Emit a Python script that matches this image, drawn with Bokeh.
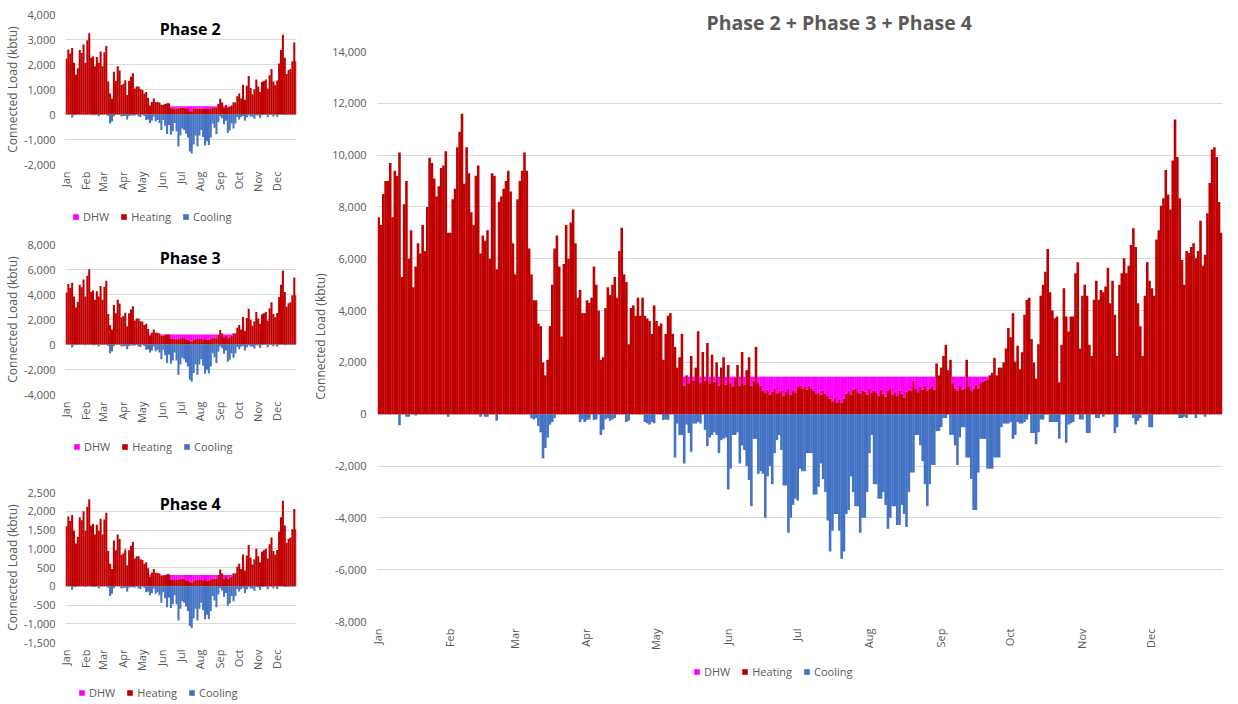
import math
from bokeh.plotting import figure
from bokeh.models import (Range1d, FixedTicker, NumeralTickFormatter, Legend,
                          LegendItem, Label, ColumnDataSource)
from bokeh.layouts import row, column
from bokeh.embed import file_html
from bokeh.resources import INLINE

# ---------------------------------------------------------------- data
MONTHS = ["Jan", "Feb", "Mar", "Apr", "May", "Jun",
          "Jul", "Aug", "Sep", "Oct", "Nov", "Dec"]
MONTH_START_DAYS = [0, 31, 59, 90, 120, 151, 181, 212, 243, 273, 304, 334]
DAYS_IN_YEAR = 365
BIN_DAYS = 3          # small panels: one bar per 3 days
N_BINS = 122

# Combined (Phase 2 + Phase 3 + Phase 4), one value per day, kbtu
main_heating = [
    7600, 7300, 8500, 9000, 9000, 9700, 7600, 9400, 9200, 10100,
    5300, 8100, 9000, 6000, 7100, 4900, 5700, 6600, 6200, 7300,
    6300, 8000, 9900, 9700, 9100, 8400, 8800, 9500, 9600, 10150,
    7000, 7000, 8300, 8700, 10300, 10900, 11600, 8900, 10300, 9300,
    7800, 7300, 9200, 9600, 6200, 6900, 6700, 7100, 6000, 9300,
    9200, 5600, 8200, 8400, 8700, 9000, 9400, 8600, 6600, 5400,
    8300, 9000, 9400, 10100, 9400, 6400, 5400, 4400, 4400, 3500,
    3400, 2000, 1500, 2100, 3400, 5000, 6400, 6900, 5700, 3000,
    5800, 7300, 6000, 7400, 7900, 6600, 4500, 4800, 3900, 3900,
    4400, 4300, 4500, 5700, 5000, 4000, 2100, 2200, 4100, 4900,
    4600, 5000, 5300, 4500, 6300, 7200, 5400, 5100, 2700, 4100,
    4200, 3800, 4500, 3800, 4500, 3800, 3700, 3600, 3100, 4200,
    3600, 3400, 3500, 2100, 3100, 3800, 3900, 3100, 2600, 1800,
    2200, 3100, 1100, 1500, 1200, 2250, 1300, 1800, 3200, 1200,
    2400, 1300, 2750, 1200, 2300, 1250, 2000, 1100, 1800, 2200,
    1150, 1900, 1200, 1050, 1400, 1900, 1100, 2400, 1150, 1700,
    2200, 1100, 1300, 2600, 1200, 1100, 900, 820, 950, 760,
    880, 1000, 780, 850, 920, 700, 860, 980, 760, 900,
    820, 1050, 1100, 1000, 1050, 950, 1100, 1000, 900, 800,
    850, 750, 900, 780, 700, 600, 500, 650, 450, 550,
    440, 600, 800, 900, 750, 950, 1000, 850, 780, 920,
    880, 750, 980, 820, 900, 850, 700, 950, 800, 680,
    900, 1000, 760, 850, 700, 920, 800, 650, 880, 950,
    900, 1300, 1000, 850, 1050, 950, 1100, 900, 1000, 1080,
    950, 1960, 1500, 1800, 2250, 2680, 1700, 2100, 1200, 1000,
    900, 1100, 950, 1000, 2100, 1050, 900, 980, 1150, 1000,
    1200, 1250, 1300, 1350, 1500, 1600, 2175, 1500, 1800, 1800,
    2000, 2540, 3330, 2970, 3900, 2030, 2640, 1740, 2390, 3840,
    4420, 4500, 2900, 2000, 1380, 2700, 4570, 5000, 5500, 6380,
    4710, 4000, 3700, 3770, 1230, 2680, 4860, 3770, 3190, 3770,
    3770, 5440, 5870, 2540, 4570, 5000, 4570, 2680, 2250, 4420,
    5150, 4420, 4790, 4710, 4930, 5650, 4280, 5150, 3840, 2250,
    5000, 5440, 6020, 5440, 5730, 6530, 7180, 6450, 4280, 3400,
    2250, 4570, 5870, 5150, 4860, 4570, 6740, 7100, 8050, 8340,
    9430, 8480, 7900, 9790, 11380, 9930, 8340, 5950, 5000, 6300,
    6230, 6450, 6600, 6020, 6300, 7470, 5730, 6160, 7760, 8920,
    10220, 10300, 9930, 8190, 7000,
]

main_dhw = [0] * 132 + [
    350, 0, 250, 0, 150, 0, 0, 250, 0, 150,
    0, 250, 0, 200, 0, 350, 0, 0, 300, 0,
    250, 400, 50, 0, 350, 0, 300, 0, 0, 350,
    150, 0, 250, 350,
    550, 630, 500, 690, 570, 450, 670, 600, 530, 750, 590, 470, 690, 550, 630, 400,
    350, 450, 400, 500, 350, 450,
    550, 650, 600, 700, 550, 670, 750,
    850, 950, 800, 1000, 900, 1010, 850,
    650, 550, 700, 500, 450, 600, 670, 530, 570, 700, 470, 630, 550,
    600, 750, 500, 650, 770, 550, 450, 690, 600, 750, 530, 650, 800, 570, 500,
    550, 150, 450, 600, 400, 500, 350, 550, 450, 370, 500,
    0, 0, 0, 0, 0, 0, 0, 250,
    450, 550, 350, 500, 450, 0, 400, 550, 470, 300, 450, 250, 200, 150, 100,
] + [0] * 101

# cooling magnitudes (drawn below zero)
main_cooling = [
    0, 0, 0, 0, 0, 0, 0, 0, 0, 430,
    0, 0, 100, 100, 0, 0, 50, 0, 0, 0,
    0, 0, 0, 0, 0, 0, 0, 0, 0, 0,
    100, 0, 0, 0, 0, 0, 0, 0, 0, 0,
    0, 0, 0, 0, 100, 0, 100, 100, 0, 0,
    0, 250, 0, 0, 0, 0, 0, 0, 0, 0,
    0, 0, 0, 0, 0, 0, 150, 200, 150, 450,
    700, 1700, 1300, 900, 400, 300, 150, 0, 0, 0,
    0, 0, 0, 0, 0, 0, 0, 300, 200, 300,
    220, 200, 0, 220, 200, 0, 800, 600, 200, 150,
    250, 200, 150, 0, 0, 0, 0, 300, 250, 0,
    0, 0, 0, 0, 0, 300, 350, 400, 300, 350,
    0, 0, 0, 220, 200, 220, 0, 0, 1670, 360,
    800, 800, 1900, 400, 725, 1450, 360, 360, 300, 360,
    0, 600, 1230, 900, 800, 700, 800, 1500, 1000, 940,
    900, 2900, 2100, 800, 800, 700, 1900, 1200, 1380, 2000,
    2540, 3550, 950, 950, 2300, 2200, 2300, 4000, 2400, 2000,
    2700, 1500, 1000, 800, 1380, 2750, 2750, 4570, 4000, 3500,
    3260, 3330, 2100, 2200, 2200, 1500, 1500, 1500, 3100, 3100,
    2800, 1900, 2500, 3000, 4100, 5300, 4500, 3850, 3850, 4500,
    5580, 5300, 3850, 3700, 2400, 3000, 3550, 3550, 4570, 4000,
    4000, 3000, 1500, 800, 2700, 2700, 3260, 3260, 3000, 3500,
    4420, 4000, 3550, 3550, 4280, 4280, 3500, 3850, 4350, 3000,
    2250, 2250, 800, 800, 1200, 1810, 2700, 3550, 2700, 1960,
    1960, 650, 650, 500, 150, 150, 0, 800, 800, 1200,
    1960, 900, 500, 500, 1670, 1670, 2500, 3700, 3700, 2250,
    950, 950, 950, 2100, 2100, 2100, 1670, 1670, 1670, 500,
    360, 360, 360, 300, 950, 800, 300, 360, 360, 300,
    200, 0, 725, 725, 1160, 700, 200, 200, 0, 0,
    300, 300, 300, 300, 950, 0, 0, 1100, 400, 350,
    300, 0, 0, 200, 200, 0, 725, 725, 0, 0,
    150, 150, 0, 100, 0, 0, 0, 0, 725, 500,
    0, 0, 0, 0, 0, 0, 150, 400, 250, 150,
    0, 0, 0, 500, 500, 0, 0, 0, 0, 0,
    0, 0, 0, 0, 0, 0, 150, 150, 100, 150,
    0, 0, 0, 150, 0, 0, 0, 100, 0, 0,
    0, 0, 0, 0, 0,
]

# Phase 2, one value per 3 days
p2_heating = [
    2240, 2600, 2440, 2660, 2070, 1600, 1850, 2580, 2460, 2800,
    2070, 2970, 3250, 2270, 2320, 1930, 2300, 2070, 2520, 1930,
    2490, 2740, 1320, 840, 640, 1710, 1340, 1930, 1760, 1180,
    1230, 1370, 780, 1340, 1510, 1650, 1040, 1120, 1120, 1010,
    980, 840, 900, 670, 360, 500, 640, 500, 500, 480,
    390, 390, 420, 450, 450, 270, 240, 250, 230, 250,
    280, 280, 280, 220, 220, 160, 130, 220, 250, 240,
    240, 240, 230, 240, 220, 220, 250, 290, 290, 280,
    420, 630, 480, 280, 380, 270, 310, 360, 490, 480,
    730, 840, 640, 1190, 590, 1150, 1540, 1060, 810, 1010,
    1400, 1120, 900, 1300, 1340, 1400, 1040, 1570, 1820, 1320,
    1180, 1360, 2040, 2580, 3190, 2270, 1620, 1780, 1820, 2130,
    2880, 2130,
]
p2_dhw = [0] * 55 + [
    60, 90, 80, 100, 80, 50, 50, 50, 110, 110,
    170, 200, 110, 80, 90, 90, 90, 100, 90, 110,
    110, 80, 40, 40, 50, 0, 0, 0, 50, 0,
    60, 20,
] + [0] * 35
p2_cooling = [
    0, 0, 0, 120, 30, 10, 0, 0, 0, 0,
    30, 0, 0, 0, 30, 30, 0, 70, 0, 0,
    0, 0, 60, 360, 280, 70, 0, 0, 0, 80,
    60, 60, 200, 60, 30, 40, 40, 0, 80, 100,
    0, 60, 220, 200, 340, 250, 80, 280, 220, 340,
    620, 220, 450, 780, 420, 810, 670, 340, 670, 1280,
    840, 560, 620, 760, 920, 1480, 1560, 1200, 840, 1280,
    840, 620, 900, 1240, 1060, 1220, 920, 360, 530, 780,
    310, 70, 150, 390, 250, 730, 640, 360, 560, 360,
    100, 200, 100, 60, 250, 110, 30, 80, 80, 170,
    30, 40, 140, 30, 10, 0, 110, 0, 10, 80,
    0, 90, 0, 0, 0, 30, 20, 10, 0, 10,
    0, 0,
]

# Phase 3
p3_heating = [
    4160, 4840, 4520, 4940, 3850, 2960, 3430, 4780, 4580, 5200,
    3850, 5510, 6030, 4210, 4320, 3590, 4260, 3850, 4680, 3590,
    4630, 5100, 2440, 1560, 1200, 3170, 2500, 3590, 3280, 2180,
    2290, 2550, 1460, 2500, 2810, 3070, 1920, 2080, 2080, 1870,
    1820, 1560, 1660, 1250, 680, 940, 1200, 940, 940, 880,
    730, 730, 780, 830, 830, 490, 450, 460, 430, 460,
    510, 520, 520, 420, 410, 300, 250, 400, 470, 440,
    450, 450, 430, 450, 400, 410, 470, 550, 540, 510,
    780, 1170, 880, 520, 700, 510, 580, 680, 910, 880,
    1350, 1560, 1200, 2210, 1090, 2130, 2860, 1980, 1510, 1870,
    2600, 2080, 1660, 2420, 2500, 2600, 1920, 2910, 3380, 2440,
    2180, 2520, 3800, 4780, 5920, 4210, 3020, 3300, 3380, 3950,
    5360, 3950,
]
p3_dhw = [0] * 44 + [
    120, 0, 0, 0, 0, 0, 70, 70, 20, 0, 0,
    310, 350, 340, 370, 340, 290, 280, 280, 380, 390,
    500, 550, 400, 330, 360, 350, 350, 370, 350, 400,
    390, 330, 250, 260, 290, 20, 0, 0, 280, 100,
    290, 220, 120,
] + [0] * 34
p3_cooling = [
    0, 0, 0, 230, 50, 30, 0, 0, 0, 0,
    50, 0, 0, 0, 50, 50, 0, 130, 0, 0,
    0, 0, 110, 690, 530, 130, 0, 0, 0, 160,
    110, 110, 370, 110, 50, 80, 80, 0, 160, 190,
    0, 120, 420, 370, 640, 480, 160, 530, 420, 640,
    1170, 420, 850, 1480, 800, 1540, 1270, 640, 1270, 2420,
    1590, 1060, 1170, 1430, 1750, 2810, 2960, 2280, 1590, 2420,
    1590, 1170, 1700, 2340, 2010, 2310, 1750, 690, 1010, 1480,
    580, 130, 290, 740, 480, 1380, 1220, 690, 1060, 690,
    190, 370, 180, 110, 480, 210, 50, 160, 160, 320,
    50, 70, 270, 50, 20, 0, 210, 0, 30, 140,
    0, 170, 0, 0, 0, 50, 40, 30, 0, 20,
    0, 0,
]

# Phase 4
p4_heating = [
    1600, 1860, 1740, 1900, 1480, 1140, 1320, 1840, 1760, 2000,
    1480, 2120, 2320, 1620, 1660, 1380, 1640, 1480, 1800, 1380,
    1780, 1960, 940, 600, 460, 1220, 960, 1380, 1260, 840,
    880, 980, 560, 960, 1080, 1180, 740, 800, 800, 720,
    700, 600, 640, 480, 260, 360, 460, 360, 360, 340,
    280, 280, 300, 320, 320, 190, 170, 180, 170, 180,
    200, 200, 200, 160, 160, 120, 100, 150, 180, 170,
    170, 170, 160, 170, 150, 160, 180, 210, 210, 200,
    300, 450, 340, 200, 270, 200, 220, 260, 350, 340,
    520, 600, 460, 850, 420, 820, 1100, 760, 580, 720,
    1000, 800, 640, 930, 960, 1000, 740, 1120, 1300, 940,
    840, 970, 1460, 1840, 2280, 1620, 1160, 1270, 1300, 1520,
    2060, 1520,
]
p4_dhw = [0] * 44 + [
    40, 0, 0, 0, 0, 0, 20, 20, 0, 0, 0,
    110, 130, 120, 130, 120, 100, 100, 100, 140, 140,
    180, 200, 150, 120, 130, 130, 130, 140, 130, 150,
    140, 120, 90, 90, 100, 0, 0, 0, 100, 30,
    100, 80, 40,
] + [0] * 34
p4_cooling = [
    0, 0, 0, 90, 20, 10, 0, 0, 0, 0,
    20, 0, 0, 0, 20, 20, 0, 50, 0, 0,
    0, 0, 40, 260, 200, 50, 0, 0, 0, 60,
    40, 40, 140, 40, 20, 30, 30, 0, 60, 70,
    0, 40, 160, 140, 240, 180, 60, 200, 160, 240,
    440, 160, 320, 560, 300, 580, 480, 240, 480, 910,
    600, 400, 440, 540, 660, 1060, 1120, 860, 600, 910,
    600, 440, 640, 880, 760, 870, 660, 260, 380, 560,
    220, 50, 110, 280, 180, 520, 460, 260, 400, 260,
    70, 140, 70, 40, 180, 80, 20, 60, 60, 120,
    20, 30, 100, 20, 10, 0, 80, 0, 10, 50,
    0, 70, 0, 0, 0, 20, 20, 10, 0, 10,
    0, 0,
]

for arr in (main_heating, main_dhw, main_cooling):
    assert len(arr) == DAYS_IN_YEAR, len(arr)
for arr in (p2_heating, p2_dhw, p2_cooling, p3_heating, p3_dhw, p3_cooling,
            p4_heating, p4_dhw, p4_cooling):
    assert len(arr) == N_BINS, len(arr)

SERIES = ["DHW", "Heating", "Cooling"]
MAIN_TITLE = "Phase 2 + Phase 3 + Phase 4"

# ---------------------------------------------------------------- style
RED = "#C00000"
MAGENTA = "#FF00FF"
BLUE = "#4472C4"
GRID = "#D9D9D9"
TXT = "#595959"
FONT = "Open Sans"
SERIES_COLORS = [MAGENTA, RED, BLUE]


def add_bars(p, x, w, heating, dhw, cooling):
    src = ColumnDataSource(dict(x=x, heating=heating, dhw=dhw,
                                cooling=[-c for c in cooling]))
    p.vbar_stack(["heating", "dhw"], x="x", width=w, source=src,
                 fill_color=[RED, MAGENTA], line_color=None)
    p.vbar(x="x", top=0, bottom="cooling", width=w, source=src,
           fill_color=BLUE, line_color=None)


def style(p, y_ticks, tick_standoff, label_standoff):
    p.outline_line_color = None
    p.background_fill_color = "white"
    p.border_fill_color = "white"
    p.xgrid.visible = False
    p.ygrid.grid_line_color = GRID
    p.ygrid.grid_line_width = 1
    p.yaxis.ticker = FixedTicker(ticks=y_ticks)
    p.yaxis.formatter = NumeralTickFormatter(format="0,0")
    p.xaxis.ticker = FixedTicker(ticks=MONTH_START_DAYS)
    p.xaxis.major_label_overrides = {d: m for d, m in zip(MONTH_START_DAYS, MONTHS)}
    p.xaxis.major_label_orientation = math.pi / 2
    for ax in (p.xaxis, p.yaxis):
        ax.axis_line_color = None
        ax.major_tick_line_color = None
        ax.minor_tick_line_color = None
        ax.major_tick_out = 0
        ax.major_tick_in = 0
        ax.minor_tick_out = 0
        ax.major_label_text_color = TXT
        ax.major_label_text_font = FONT
        ax.major_label_text_font_size = "11px"
    p.xaxis.major_label_standoff = 7
    p.yaxis.major_label_standoff = tick_standoff
    p.yaxis.axis_label = "Connected Load (kbtu)"
    p.yaxis.axis_label_text_font = FONT
    p.yaxis.axis_label_text_font_size = "12px"
    p.yaxis.axis_label_text_font_style = "normal"
    p.yaxis.axis_label_text_color = TXT
    p.yaxis.axis_label_standoff = label_standoff


def strip(width, height, frame_w):
    """Axis-less strip; its frame lines up with the chart frame above it."""
    f = figure(width=width, height=height, x_range=Range1d(0, frame_w),
               y_range=Range1d(0, height), x_axis_type=None, y_axis_type=None,
               min_border=0, min_border_left=0, min_border_right=0,
               min_border_top=0, min_border_bottom=0,
               output_backend="svg", toolbar_location=None, title=None)
    f.outline_line_color = None
    f.background_fill_color = "white"
    f.border_fill_color = "white"
    return f


def legend_strip(width, height, frame_w, x_off):
    f = strip(width, height, frame_w)
    items = []
    for name, col in zip(SERIES, SERIES_COLORS):
        # zero-size swatch renderer: only feeds the legend its colour
        r = f.vbar(x=[0.5], top=[0], bottom=[0], width=0,
                   fill_color=col, line_color=None)
        items.append(LegendItem(label=name, renderers=[r]))
    leg = Legend(items=items, orientation="horizontal",
                 location=(x_off, (height - 14) / 2),
                 glyph_width=7, glyph_height=7, label_height=14,
                 label_text_font_size="11px", label_text_color=TXT,
                 label_text_font=FONT, label_standoff=4, spacing=11,
                 padding=0, margin=0, border_line_color=None,
                 background_fill_alpha=0)
    f.add_layout(leg)
    return f


bin_x = [BIN_DAYS * b + BIN_DAYS / 2 for b in range(N_BINS)]
day_x = [d + 0.5 for d in range(DAYS_IN_YEAR)]

PH_FRAME_W = 231


def phase_panel(name, heating, dhw, cooling, y_lo, y_hi, y_step,
                top_border, bottom_border, title_px):
    p = figure(frame_width=PH_FRAME_W, frame_height=150,
               x_range=Range1d(0, DAYS_IN_YEAR), y_range=Range1d(y_lo, y_hi),
               min_border_left=63, min_border_right=6,
               min_border_top=top_border, min_border_bottom=bottom_border,
               output_backend="svg", toolbar_location=None, title=None)
    add_bars(p, bin_x, BIN_DAYS * 1.08, heating, dhw, cooling)
    style(p, list(range(y_lo, y_hi + 1, y_step)), 10, 0)
    p.add_layout(Label(x=DAYS_IN_YEAR * 0.54,
                       y=y_hi - (y_hi - y_lo) * title_px / 150.0,
                       text=name, text_align="center", text_baseline="middle",
                       text_font=FONT, text_font_size="16px",
                       text_font_style="bold", text_color="black"))
    return p


p2 = phase_panel("Phase 2", p2_heating, p2_dhw, p2_cooling, -2000, 4000, 1000, 14, 40, 14)
p3 = phase_panel("Phase 3", p3_heating, p3_dhw, p3_cooling, -4000, 8000, 2000, 14, 40, 13)
p4 = phase_panel("Phase 4", p4_heating, p4_dhw, p4_cooling, -1500, 2500, 500, 32, 44, 11)
l2 = legend_strip(300, 26, PH_FRAME_W, 7)
l3 = legend_strip(300, 26, PH_FRAME_W, 8)
l4 = legend_strip(300, 14, PH_FRAME_W, 13)

MAIN_FRAME_W = 845
# title strip above the combined chart
tm = strip(922, 43, MAIN_FRAME_W)
tm.add_layout(Label(x=329, y=21, text=MAIN_TITLE, text_align="left",
                    text_baseline="middle", text_font=FONT,
                    text_font_size="19.5px", text_font_style="bold",
                    text_color=TXT))

pm = figure(frame_width=MAIN_FRAME_W, frame_height=570,
            x_range=Range1d(0, DAYS_IN_YEAR), y_range=Range1d(-8000, 14000),
            min_border_left=75, min_border_right=2,
            min_border_top=8, min_border_bottom=41,
            output_backend="svg", toolbar_location=None, title=None)
add_bars(pm, day_x, 1.12, main_heating, main_dhw, main_cooling)
style(pm, list(range(-8000, 14001, 2000)), 11, 0)
lm = legend_strip(922, 20, MAIN_FRAME_W, 316)

layout = row(column(p2, l2, p3, l3, p4, l4), column(tm, pm, lm))
open("out.html", "w").write(file_html(layout, INLINE))
